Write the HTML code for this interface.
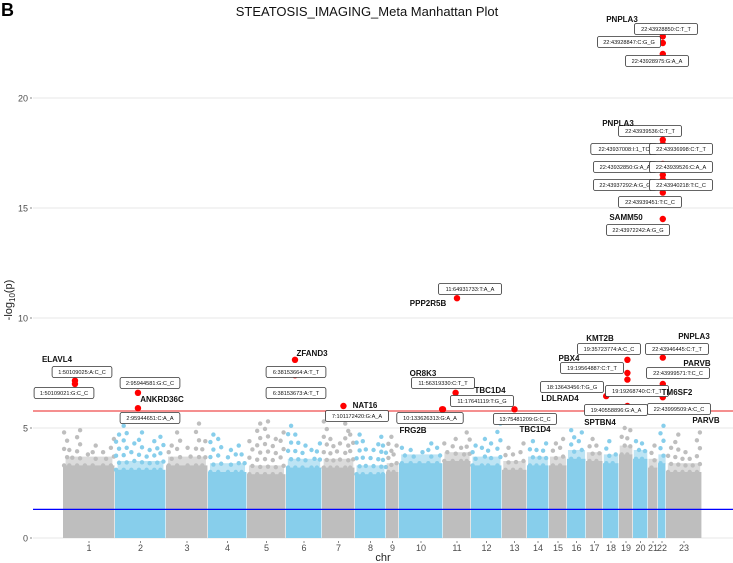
<!DOCTYPE html>
<html><head><meta charset="utf-8"><style>
html,body{margin:0;padding:0;background:#fff;}
svg{display:block;font-family:"Liberation Sans",sans-serif;}
</style></head><body>
<svg id="chart" width="733" height="563" viewBox="0 0 733 563">
<text x="1" y="16" font-size="18" font-weight="bold">B</text>
<text x="367" y="16" font-size="13" text-anchor="middle" fill="#111">STEATOSIS_IMAGING_Meta Manhattan Plot</text>
<text transform="translate(12,300) rotate(-90)" font-size="11" text-anchor="middle" fill="#222">-log<tspan font-size="8" dy="3">10</tspan><tspan dy="-3">(p)</tspan></text>
<text x="383" y="561" font-size="11" text-anchor="middle" fill="#222">chr</text>
<g id="grid"></g><g id="bg"></g><g id="lines"></g><g id="hits"></g><g id="labels"></g><g id="axes"></g>
</svg>
<script>
const chrNames=["1","2","3","4","5","6","7","8","9","10","11","12","13","14","15","16","17","18","19","20","21","22","23"];
const chrLengths=[52,51,42,39,39,36,33,31,13,44,28,31,25,22,18,19,17,16,14,15,10,8,36];
const chrDenseTop=[3.3,3.1,3.3,3.0,2.9,3.2,3.2,2.9,3.0,3.4,3.5,3.3,3.1,3.3,3.3,3.6,3.5,3.4,3.8,3.6,3.2,3.4,3.0];
// scattered upper background points per chromosome: [fraction along chr, -log10 p]
const chrPeaks=[
[[0.05,4.8],[0.15,4.0],[0.3,4.9],[0.45,3.8],[0.6,4.2],[0.8,3.9],[0.95,4.5]],
[[0.05,4.7],[0.2,5.1],[0.35,4.3],[0.5,4.8],[0.65,4.0],[0.8,4.4],[0.92,4.6]],
[[0.1,4.2],[0.3,4.8],[0.55,4.1],[0.75,5.2],[0.9,4.4]],
[[0.1,4.7],[0.3,4.5],[0.55,4.0],[0.75,4.2],[0.9,3.8]],
[[0.1,4.4],[0.3,5.2],[0.5,5.3],[0.7,4.5],[0.9,4.8]],
[[0.1,5.1],[0.3,4.7],[0.5,4.2],[0.75,4.0],[0.9,4.3]],
[[0.1,5.3],[0.3,4.5],[0.5,4.3],[0.75,5.2],[0.9,4.7]],
[[0.1,4.7],[0.3,4.4],[0.55,4.0],[0.8,4.6],[0.95,4.2]],
[[0.3,4.6],[0.7,4.2]],
[[0.1,4.1],[0.3,4.0],[0.5,3.9],[0.7,4.3],[0.9,4.1]],
[[0.1,4.3],[0.4,4.5],[0.7,4.1],[0.9,4.8]],
[[0.1,4.2],[0.4,4.5],[0.6,4.3],[0.9,5.2]],
[[0.2,4.1],[0.5,3.8],[0.8,4.3]],
[[0.2,4.4],[0.5,4.0],[0.8,4.3]],
[[0.3,4.3],[0.7,4.5]],
[[0.3,4.9],[0.7,4.8]],
[[0.3,4.5],[0.7,4.2]],
[[0.3,4.4],[0.7,3.8]],
[[0.3,5.0],[0.7,4.9]],
[[0.3,4.4],[0.7,4.3]],
[[0.5,4.2]],
[[0.5,5.1]],
[[0.1,4.1],[0.3,4.7],[0.5,3.9],[0.7,3.6],[0.9,4.8]]
];
const hitChr=[21,21,21, 21,21,21,21,21,21,21,21,21, 21, 10, 0,0, 1,1, 5,5, 6, 10,9,9, 12, 18,18,18,17,18, 21,21,21];
const hitFrac=[0.6,0.6,0.6, 0.6,0.6,0.6,0.6,0.6,0.6,0.6,0.6,0.6, 0.6, 0.5, 0.23,0.23, 0.45,0.45, 0.25,0.25, 0.65, 0.45,0.98,1.0, 0.5, 0.6,0.6,0.6,0.2,0.6, 0.6,0.6,0.6];
const hitVal=[22.8,22.5,22.0, 18.1,17.9,17.6,17.0,16.5,16.3,16.1,15.9,15.7, 14.5, 10.9, 7.15,7.0, 6.6,5.9, 8.1,7.4, 6.0, 6.6,5.85,5.85, 5.85, 8.1,7.5,7.2,6.45,6.0, 8.2,7.0,6.4];
const yTicks=[0,5,10,15,20];
const redLine=5.77, blueLine=1.3;

const NS="http://www.w3.org/2000/svg";
const X0=63,X1=702,Y0=538,PX=22;
const total=chrLengths.reduce((a,b)=>a+b,0);
const starts=[];let acc=0;chrLengths.forEach(l=>{starts.push(acc);acc+=l;});
const xs=(c,f)=>X0+(starts[c]+f*chrLengths[c])/total*(X1-X0);
const ys=v=>Y0-v*PX;
function mk(tag,attrs,parent){const e=document.createElementNS(NS,tag);for(const k in attrs)e.setAttribute(k,attrs[k]);document.getElementById(parent).appendChild(e);return e;}

yTicks.forEach(t=>{
  const g=mk('line',{x1:33,x2:733,y1:ys(t),y2:ys(t),stroke:'#ececec','stroke-width':1.2},'grid');
  
  
  const tk=mk('line',{x1:30,x2:32,y1:ys(t),y2:ys(t),stroke:'#888'},'axes');
  
  
  const tl=mk('text',{x:28,y:ys(t)+3.5,'font-size':9,'text-anchor':'end',fill:'#4d4d4d'},'axes');
  tl.textContent=t;
  
  
});

chrNames.forEach((n,i)=>{
  const col=i%2===0?'#bebebe':'#87ceeb';
  const xa=xs(i,0),xb=xs(i,1);
  const r=mk('rect',{x:xa,y:ys(chrDenseTop[i]),width:xb-xa-0.6,height:ys(0)-ys(chrDenseTop[i]),fill:col},'bg');
  
  
  const r2=mk('rect',{x:xa+(xb-xa)*0.05,y:ys(chrDenseTop[i]+0.4),width:(xb-xa)*0.9,height:PX*0.4+1,fill:col,opacity:0.55},'bg');
  
  
  chrPeaks[i].forEach(p=>{
    const steps=Math.max(1,Math.round((p[1]-chrDenseTop[i])/0.35));
    for(let s=0;s<=steps;s++){
      const v=chrDenseTop[i]+(p[1]-chrDenseTop[i])*s/steps;
      const c=mk('circle',{cx:xs(i,p[0])+(s%2?1.5:-1.5),cy:ys(v),r:2.2,fill:col},'bg');
      
      
    }
  });
  const tk=mk('line',{x1:xs(i,0.5),x2:xs(i,0.5),y1:541,y2:543,stroke:'#888'},'axes');
  
  
  const tl=mk('text',{x:xs(i,0.5),y:551,'font-size':9,'text-anchor':'middle',fill:'#4d4d4d'},'axes');
  tl.textContent=n;
  
  
});

const rl=mk('line',{x1:33,x2:733,y1:ys(redLine),y2:ys(redLine),stroke:'#f26a6a','stroke-width':1.5},'lines');


const bl=mk('line',{x1:33,x2:733,y1:ys(blueLine),y2:ys(blueLine),stroke:'#0000ff','stroke-width':1.3},'lines');



hitVal.forEach((v,k)=>{
  const c=mk('circle',{cx:xs(hitChr[k],hitFrac[k]),cy:ys(v),r:3.2,fill:'#ff0000'},'hits');
  
  
});

const boxes=[
[666,29,"22:43928850:C:T_T"],[629,42,"22:43928847:C:G_G"],[657,61,"22:43928975:G:A_A"],
[650,131,"22:43939536:C:T_T"],[624,149,"22:43937008:I:1_TC"],[681,149,"22:43936998:C:T_T"],
[625,167,"22:43932850:G:A_A"],[681,167,"22:43939526:C:A_A"],[625,185,"22:43937292:A:G_G"],[681,185,"22:43940218:T:C_C"],
[650,202,"22:43939451:T:C_C"],[638,230,"22:43972242:A:G_G"],
[470,289,"11:64931733:T:A_A"],
[82,372,"1:50109025:A:C_C"],[64,393,"1:50109021:G:C_C"],[150,383,"2:95944581:G:C_C"],[150,418,"2:95944651:C:A_A"],
[296,372,"6:38153664:A:T_T"],[296,393,"6:38153673:A:T_T"],[357,416,"7:101172420:G:A_A"],
[443,383,"11:56319330:C:T_T"],[482,401,"11:17641119:T:G_G"],[430,418,"10:133626313:G:A_A"],[525,419,"13:75481209:G:C_C"],
[609,349,"19:35723774:A:C_C"],[592,368,"19:19564887:C:T_T"],[572,387,"18:13643456:T:G_G"],[637,391,"19:19268740:C:T_T"],[616,410,"19:40558896:G:A_A"],
[677,349,"22:43946445:C:T_T"],[678,373,"22:43999571:T:C_C"],[679,409,"22:43999509:A:C_C"]
];
boxes.forEach(b=>{
  const w=b[2].length*3.3+7;
  const r=mk('rect',{x:b[0]-w/2,y:b[1]-5.5,width:w,height:11,rx:2,fill:'#fff',stroke:'#333','stroke-width':0.8},'labels');
  
  
  const t=mk('text',{x:b[0],y:b[1]+2,'font-size':5.6,'text-anchor':'middle',fill:'#111'},'labels');
  t.textContent=b[2];
  
  
});
const genes=[[622,22,"PNPLA3"],[618,126,"PNPLA3"],[626,220,"SAMM50"],[428,306,"PPP2R5B"],[57,362,"ELAVL4"],[162,402,"ANKRD36C"],[312,356,"ZFAND3"],[365,408,"NAT16"],[423,376,"OR8K3"],[490,393,"TBC1D4"],[413,433,"FRG2B"],[535,432,"TBC1D4"],[600,341,"KMT2B"],[569,361,"PBX4"],[560,401,"LDLRAD4"],[600,425,"SPTBN4"],[694,339,"PNPLA3"],[697,366,"PARVB"],[677,395,"TM6SF2"],[706,423,"PARVB"]];
genes.forEach(g=>{
  const t=mk('text',{x:g[0],y:g[1],'font-size':8,'font-weight':'bold','text-anchor':'middle',fill:'#111'},'labels');
  t.textContent=g[2];
  
  
});
</script>
</body></html>
